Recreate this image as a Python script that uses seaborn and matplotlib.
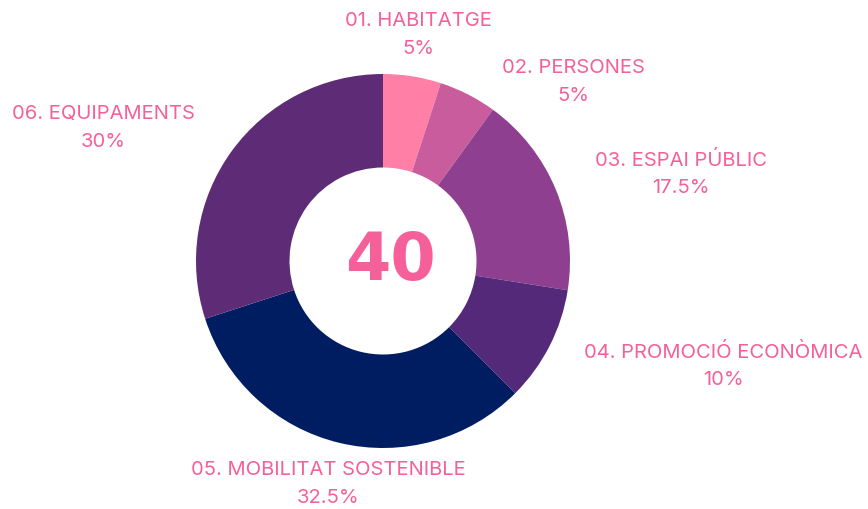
import matplotlib
matplotlib.use("Agg")
import matplotlib.pyplot as plt
import seaborn as sns

categories = ["01. HABITATGE", "02. PERSONES", "03. ESPAI PÚBLIC",
              "04. PROMOCIÓ ECONÒMICA", "05. MOBILITAT SOSTENIBLE", "06. EQUIPAMENTS"]
counts = [2, 2, 7, 4, 13, 12]
colors = ["#FF7FA6", "#C95C9C", "#8E3F8F", "#54297A", "#001D62", "#5E2C77"]
total_label = "40"

# label anchor positions (pixel-space), purely for text placement
label_px = [(418, 35), (573, 82), (681, 174), (723, 366), (328, 484), (103, 128)]

sns.set_theme(style="white")
plt.rcParams['font.family'] = ['Inter', 'DejaVu Sans']

W, H = 868, 510
cx, cy, R = 383, 262, 187
fig = plt.figure(figsize=(W / 100, H / 100), dpi=100)
ax = fig.add_axes([0, 0, 1, 1])

pal = sns.color_palette(colors)
ax.pie(counts, colors=pal, startangle=90, counterclock=False,
       radius=1.0, wedgeprops=dict(width=0.5, edgecolor="none", linewidth=0))

ax.set_xlim(-cx / R, (W - cx) / R)
ax.set_ylim(-(H - cy) / R, cy / R)
ax.set_aspect('equal')
ax.axis('off')

pink = "#F5609A"
tot = sum(counts)
for cat, c, (px, py) in zip(categories, counts, label_px):
    pct = 100 * c / tot
    ptxt = f"{pct:g}%"
    ax.text((px - cx) / R, (cy - py) / R, f"{cat}\n{ptxt}", ha="center", va="center",
            color=pink, fontsize=14.5, linespacing=1.7)

ax.text(0.04, 0.0, total_label, ha="center", va="center", color=pink,
        fontsize=47, fontweight="bold", family=["DejaVu Sans"])

fig.savefig("out.png", dpi=100)
